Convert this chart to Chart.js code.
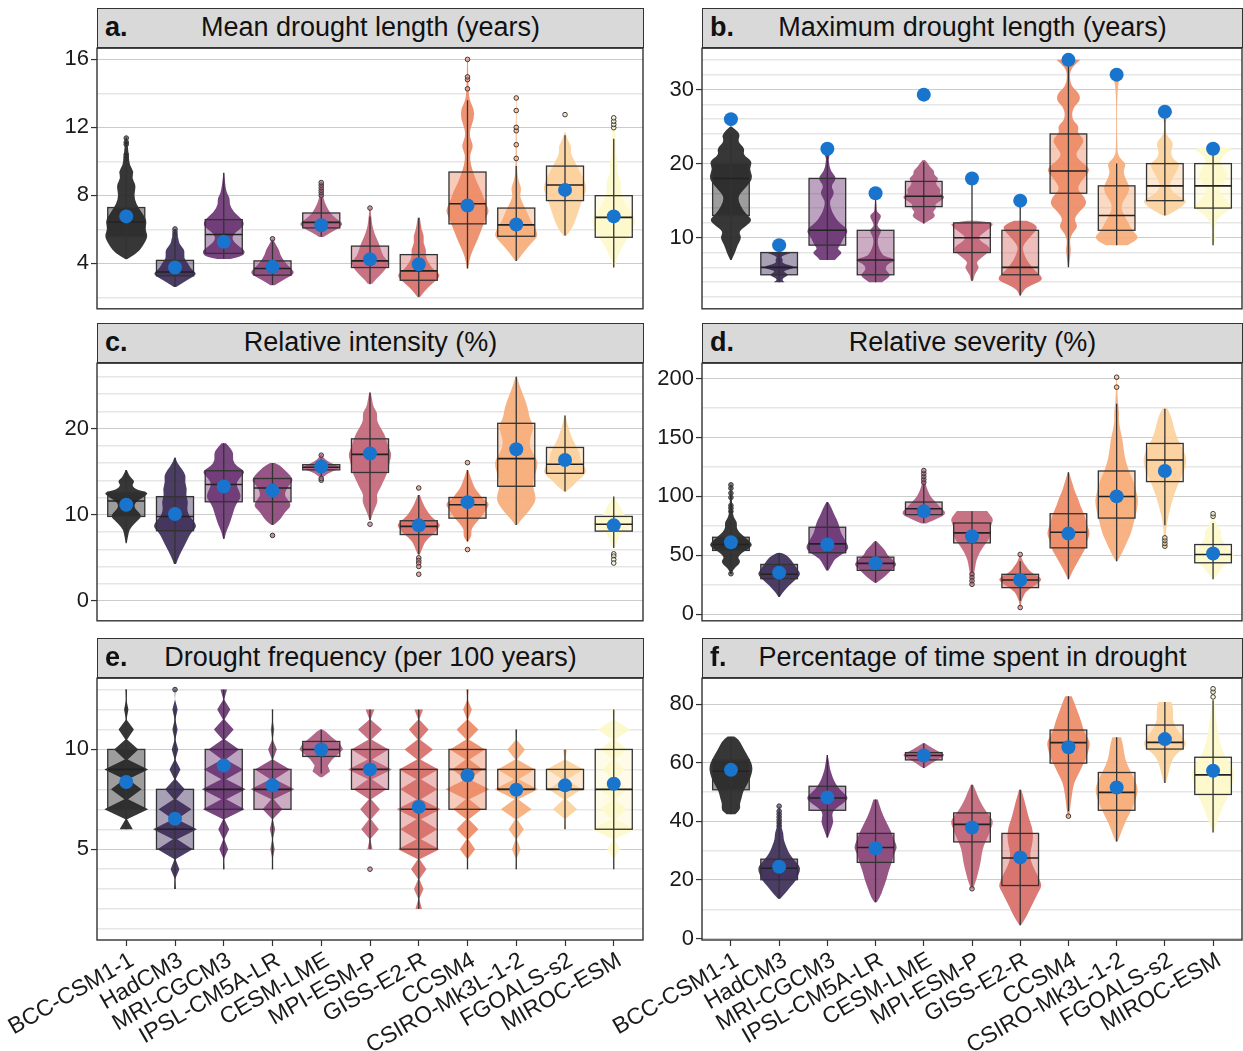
<!DOCTYPE html>
<html><head><meta charset="utf-8">
<script src="https://cdn.jsdelivr.net/npm/chart.js@4/dist/chart.umd.min.js"></script>
<style>
body{margin:0;background:#fff;width:1243px;height:1051px;overflow:hidden;position:relative;font-family:"Liberation Sans",Arial,Helvetica,sans-serif}
.hdr{position:absolute;height:40px;background:#d9d9d9;border:1.4px solid #333;box-sizing:border-box;font-size:27px;line-height:37px;text-align:center;color:#111;white-space:nowrap}
.hdr b{position:absolute;left:7px;top:0}
canvas{position:absolute}
</style></head>
<body>
<script>
const models = ['BCC-CSM1-1','HadCM3','MRI-CGCM3','IPSL-CM5A-LR','CESM-LME','MPI-ESM-P','GISS-E2-R','CCSM4','CSIRO-Mk3L-1-2','FGOALS-s2','MIROC-ESM'];
const modelColors = ['#262626','#3d2c58','#6b3674','#8c487b','#ad5d80','#c2677a','#d86f69','#ee8b66','#f7ad79','#fcd19c','#fdf8cb'];
const panelLetters = ['a.','b.','c.','d.','e.','f.'];
const panelTitles = ['Mean drought length (years)','Maximum drought length (years)','Relative intensity (%)','Relative severity (%)','Drought frequency (per 100 years)','Percentage of time spent in drought'];

// ---------- a. Mean drought length ----------
const aRange = [1.32, 16.66];
const aTicks = [4, 8, 12, 16];
const aGrid = [2, 4, 6, 8, 10, 12, 14, 16];
const aBox = [[4.23,5.56,6.43,7.28,9.9],[2.6,3.26,3.49,4.17,5.5],[4.27,4.58,5.69,6.57,9.33],[2.72,3.3,3.69,4.14,5.3],[5.56,6.08,6.41,6.96,7.83],[2.77,3.75,4.14,5.01,6.76],[2.03,3.0,3.55,4.51,6.67],[3.69,6.32,7.5,9.37,13.6],[4.14,5.59,6.26,7.25,9.72],[5.63,7.69,8.61,9.72,11.53],[3.75,5.53,6.7,7.98,11.33]];
const aMean = [6.76,3.75,5.27,3.79,6.24,4.23,3.94,7.4,6.28,8.32,6.76];
const aOut = [[10.1,10.25,10.4,11.0,11.13,11.37],[5.7,5.85,6.02],[],[5.44],[8.0,8.15,8.3,8.45,8.6,8.75],[7.25],[],[14.27,14.81,14.97,16.0],[10.17,10.98,11.8,12.0,12.99,13.73],[12.75],[11.98,12.17,12.36,12.56]];
const aViolin = [
 [[4.25,0.05],[4.6,0.5],[5.0,0.75],[5.6,1.0],[6.0,0.85],[6.5,0.95],[7.0,0.7],[7.5,0.45],[8.0,0.35],[8.6,0.45],[9.0,0.25],[9.4,0.35],[9.8,0.15],[10.3,0.12],[11.4,0.03]],
 [[2.6,0.05],[2.9,0.4],[3.2,0.8],[3.4,1.0],[3.7,0.7],[4.0,0.6],[4.3,0.4],[4.8,0.45],[5.1,0.2],[5.5,0.15],[6.0,0.03]],
 [[4.25,0.3],[4.4,0.85],[4.7,1.0],[5.0,0.7],[5.4,0.35],[5.8,0.5],[6.2,0.95],[6.6,0.85],[7.0,0.45],[7.5,0.25],[7.8,0.3],[8.2,0.1],[9.3,0.02]],
 [[2.7,0.1],[3.0,0.45],[3.3,0.9],[3.5,1.0],[3.8,0.75],[4.1,0.55],[4.5,0.35],[4.8,0.3],[5.1,0.15],[5.4,0.03]],
 [[5.55,0.1],[5.8,0.4],[6.1,0.85],[6.35,1.0],[6.6,0.7],[6.9,0.45],[7.2,0.3],[7.6,0.15],[8.0,0.08],[8.8,0.02]],
 [[2.8,0.1],[3.1,0.3],[3.4,0.55],[3.8,0.8],[4.1,0.85],[4.4,0.6],[4.8,0.5],[5.2,0.4],[5.6,0.25],[6.0,0.15],[6.4,0.08],[7.3,0.02]],
 [[2.0,0.05],[2.5,0.35],[3.0,0.8],[3.3,1.0],[3.6,0.7],[4.0,0.45],[4.4,0.3],[4.8,0.35],[5.2,0.2],[5.6,0.25],[6.0,0.12],[6.7,0.05]],
 [[3.7,0.03],[4.3,0.1],[4.8,0.25],[5.5,0.5],[6.2,0.7],[6.7,0.85],[7.1,1.0],[7.6,0.8],[8.2,0.65],[8.7,0.45],[9.2,0.3],[9.8,0.15],[10.4,0.1],[10.9,0.28],[11.4,0.1],[11.9,0.12],[12.5,0.3],[13.1,0.3],[13.6,0.08],[14.5,0.04],[16.0,0.02]],
 [[4.15,0.05],[4.6,0.3],[5.2,0.7],[5.6,1.0],[6.0,0.9],[6.5,0.65],[7.0,0.5],[7.5,0.3],[8.0,0.15],[8.4,0.25],[9.0,0.06],[10.0,0.03],[13.7,0.01]],
 [[5.6,0.05],[6.0,0.3],[6.6,0.5],[7.2,0.65],[7.8,0.8],[8.4,1.0],[9.0,0.85],[9.6,0.6],[10.1,0.4],[10.5,0.25],[10.9,0.3],[11.3,0.1],[11.7,0.03]],
 [[3.75,0.03],[4.3,0.15],[5.0,0.4],[5.6,0.7],[6.2,0.95],[6.6,1.0],[7.0,0.8],[7.6,0.45],[8.2,0.3],[8.8,0.35],[9.3,0.15],[9.8,0.2],[10.3,0.12],[10.8,0.1],[11.4,0.08],[12.6,0.02]]
];

// ---------- b. Maximum drought length ----------
const bRange = [0.41, 35.57];
const bTicks = [10, 20, 30];
const bGrid = [2,4,6,8,10,12,14,16,18,20,22,24,26,28,30,32,34];
const bBox = [[7,13,18,20,24],[4,5,6,8,8],[7,9,11,18,22],[4,5,7,11,16],[11.9,14.2,15.6,17.6,20.2],[4.2,8,10,12,18],[2.2,5,6,11,15],[6,16,19,24,34],[9,11,13,17,20],[13,15,17,20,27],[9,14,17,20,22]];
const bMean = [26,9,22,16,29.3,18,15,34,32,27,22];
const bOut = [[],[],[],[],[],[],[],[],[],[],[]];
const bViolin = [
 [[7,0.03],[8,0.2],[9,0.3],[10,0.5],[10.8,0.35],[11.6,0.7],[12.4,1.0],[13.2,0.7],[14.2,0.45],[15.5,0.3],[16.5,0.6],[17.5,0.9],[18.3,1.0],[19.3,0.85],[20.3,1.0],[21.2,0.55],[22,0.65],[23,0.3],[24,0.45],[25,0.03]],
 [[4,0.25],[4.4,0.05],[5,0.5],[5.5,0.1],[6,0.85],[6.6,0.1],[7,0.2],[7.5,0.05],[8,0.6]],
 [[7,0.35],[7.5,0.5],[8,0.7],[8.5,0.45],[9,0.6],[10,0.75],[11,1.0],[12,0.55],[13,0.3],[14,0.15],[15,0.1],[16,0.35],[17,0.15],[18,0.45],[19,0.15],[20,0.08],[21,0.05],[22,0.3]],
 [[4,0.3],[4.5,0.55],[5,0.7],[5.5,0.5],[6,0.45],[6.5,0.6],[7,1.0],[7.5,0.4],[8,0.25],[9,0.1],[10,0.1],[11,0.3],[11.5,0.08],[12,0.1],[13,0.3],[13.5,0.05],[14,0.05],[15,0.02]],
 [[12,0.05],[12.5,0.4],[13,0.55],[13.5,0.4],[14,0.6],[14.5,0.5],[15,0.8],[15.5,1.0],[16,0.7],[16.5,0.8],[17,0.6],[17.5,0.55],[18,0.7],[18.5,0.45],[19,0.5],[19.5,0.3],[20,0.2],[20.5,0.05]],
 [[4.2,0.05],[5,0.1],[6,0.35],[6.5,0.2],[7,0.3],[8,0.75],[8.5,0.85],[9,0.7],[9.5,0.4],[10,0.3],[10.5,0.45],[11,0.7],[11.5,0.9],[12,1.0],[12.3,0.2]],
 [[2.2,0.03],[3,0.15],[3.6,0.5],[4.2,1.0],[4.8,1.0],[5.5,0.7],[6.2,0.5],[7,0.3],[8,0.15],[8.8,0.1],[9.6,0.3],[10.4,0.55],[11.2,0.8],[11.8,0.7],[12.3,0.3]],
 [[6,0.02],[7.5,0.08],[8.5,0.12],[9.5,0.05],[10.5,0.15],[11.5,0.45],[12.5,0.25],[13.5,0.5],[14.5,0.85],[15.5,0.75],[16.5,0.4],[17.5,0.55],[18.5,0.85],[19.3,1.0],[20.2,0.6],[21.2,0.3],[22.2,0.55],[23.2,0.75],[24.2,0.4],[25,0.5],[26,0.15],[27.5,0.2],[28.5,0.55],[29.5,0.5],[30.5,0.1],[32.5,0.05],[33.5,0.35],[34,0.55]],
 [[9,0.5],[9.6,0.9],[10.2,1.0],[11,0.7],[12,0.55],[13,0.35],[14,0.2],[15,0.3],[16,0.55],[17,0.6],[18,0.4],[19,0.3],[20,0.45],[20.8,0.1],[22,0.02],[31,0.02],[31.8,0.3],[32.2,0.2]],
 [[13,0.1],[13.5,0.4],[14,0.7],[14.5,0.9],[15,1.0],[15.5,0.7],[16,0.4],[17,0.2],[18,0.35],[19,0.55],[20,0.7],[20.5,0.4],[21.5,0.25],[22.5,0.4],[23.2,0.3],[24,0.03],[26,0.02],[26.8,0.4],[27.2,0.3]],
 [[9,0.02],[10,0.15],[10.5,0.05],[12,0.1],[13,0.35],[14,0.9],[14.5,0.8],[15.5,0.45],[16.5,0.25],[17.5,0.5],[18.5,0.7],[19.5,0.45],[20.5,0.3],[21.5,0.6],[22,1.0],[22.3,0.2]]
];

// ---------- c. Relative intensity ----------
const cRange = [-2.3, 27.57];
const cTicks = [0, 10, 20];
const cGrid = [0,2,4,6,8,10,12,14,16,18,20,22,24,26];
const cBox = [[6.7,9.8,11.6,12.6,15.2],[4.3,8.15,9.8,12.1,16.6],[7.2,11.5,13.5,15.1,18.3],[8.85,11.5,13.1,14.2,16.0],[14.5,15.2,15.5,15.8,16.5],[9.4,14.9,17.0,18.8,24.15],[5.4,7.7,8.65,9.3,12.3],[6.9,9.6,11.15,12.0,15.2],[8.8,13.3,16.5,20.6,26.0],[12.7,14.8,15.85,17.8,21.5],[6.15,8.1,8.9,9.8,12.1]];
const cMean = [11.15,10.08,13.27,12.8,15.6,17.1,8.77,11.46,17.6,16.35,8.77];
const cOut = [[],[],[],[7.6],[14.0,14.2,16.9],[8.9],[13.1,5.0,4.7,4.4,4.0,3.1],[16.04,5.96],[],[],[5.46,5.2,4.8,4.4]];
const cViolin = [
 [[6.8,0.03],[7.5,0.08],[8.3,0.15],[8.9,0.35],[9.4,0.55],[9.8,0.7],[10.2,0.6],[10.7,0.4],[11.2,0.35],[11.7,0.55],[12.2,0.9],[12.6,1.0],[12.9,0.45],[13.4,0.25],[13.9,0.4],[14.4,0.15],[15.2,0.03]],
 [[4.3,0.05],[5,0.15],[5.8,0.3],[6.5,0.45],[7.3,0.6],[8,0.75],[8.6,1.0],[9.3,0.85],[10,0.6],[10.8,0.55],[11.5,0.6],[12.3,0.5],[13,0.55],[13.8,0.45],[14.5,0.5],[15.2,0.35],[16,0.1],[16.6,0.03]],
 [[7.2,0.03],[8,0.1],[8.8,0.25],[9.6,0.35],[10.4,0.45],[11.2,0.55],[12,0.8],[12.8,0.7],[13.6,0.55],[14.3,0.75],[15,1.0],[15.6,0.6],[16.3,0.4],[17,0.45],[17.6,0.35],[18.3,0.1]],
 [[8.8,0.05],[9.3,0.3],[9.8,0.45],[10.4,0.6],[11,0.85],[11.6,0.75],[12.2,0.55],[12.8,0.6],[13.4,0.75],[14,0.95],[14.6,0.8],[15.2,0.55],[15.7,0.35],[16,0.1]],
 [[14.3,0.05],[14.8,0.3],[15.2,0.7],[15.5,0.9],[15.8,0.6],[16.2,0.3],[16.6,0.1],[17,0.02]],
 [[9.4,0.03],[10,0.1],[10.6,0.2],[11.2,0.3],[11.7,0.35],[12.3,0.3],[13,0.45],[13.8,0.6],[14.6,0.75],[15.4,0.85],[16.2,0.9],[17,1.0],[17.8,0.85],[18.6,0.75],[19.4,0.65],[20.2,0.45],[21,0.3],[21.8,0.35],[22.5,0.15],[23.3,0.1],[24.2,0.03]],
 [[5.4,0.05],[6,0.15],[6.7,0.25],[7.3,0.45],[7.8,0.7],[8.3,0.85],[8.8,1.0],[9.3,0.8],[9.8,0.55],[10.4,0.4],[11,0.25],[11.6,0.15],[12.3,0.05]],
 [[6.9,0.03],[7.5,0.2],[8.2,0.15],[8.8,0.3],[9.5,0.55],[10.2,0.75],[10.8,0.9],[11.3,1.0],[11.8,0.7],[12.4,0.55],[13,0.35],[13.6,0.25],[14.3,0.15],[15.2,0.03]],
 [[8.8,0.05],[9.5,0.25],[10.3,0.55],[11,0.75],[11.7,0.9],[12.5,0.85],[13.3,0.75],[14.2,0.8],[15,0.9],[16,1.0],[16.8,0.85],[17.6,0.65],[18.5,0.6],[19.4,0.7],[20.3,0.8],[21.2,0.6],[22.1,0.55],[23,0.45],[24,0.3],[25,0.15],[26,0.03]],
 [[12.7,0.05],[13.3,0.35],[13.9,0.55],[14.5,0.85],[15.1,1.0],[15.7,0.85],[16.3,0.7],[16.9,0.7],[17.5,0.6],[18.2,0.45],[19,0.3],[19.8,0.2],[20.6,0.1],[21.5,0.03]],
 [[6.15,0.03],[6.7,0.15],[7.3,0.2],[7.9,0.35],[8.5,0.75],[9,1.0],[9.5,0.7],[10,0.5],[10.5,0.35],[11,0.3],[11.5,0.15],[12.1,0.03]]
];

// ---------- d. Relative severity ----------
const dRange = [-5.7, 213.2];
const dTicks = [0, 50, 100, 150, 200];
const dGrid = [0,25,50,75,100,125,150,175,200];
const dBox = [[39.4,54.1,59.1,65.3,78.8],[14.6,30.1,33.8,42.2,52.1],[37.2,52.1,59.7,73.8,95.2],[26.7,37.2,43.1,48.4,61.9],[77.4,84.5,89.5,95.2,109.8],[36.0,60.5,69,77.4,87.3],[11.3,22.5,29,33.8,45],[29.6,56.3,69.5,85.3,120.5],[45,81.6,99.9,121.6,178.8],[75.5,112.6,130.9,145,174.5],[29.6,43.6,50.7,59.1,77.4]];
const dMean = [61.1,35.2,59.1,43.1,87.3,66.2,29,68.4,100,121.6,51.5];
const dOut = [[34.3,87.3,90,92.3,99.1,102.8,107,109.8],[],[],[],[112,114.5,117,119.5,122],[33.8,31,28.2,25.3],[50.7,5.6],[],[192.8,201.3],[57.7,60,62.5,64.8],[83.1,85.3]];
const dViolin = [
 [[34,0.03],[38,0.1],[42,0.35],[45,0.45],[48,0.3],[52,0.5],[56,0.85],[59,1.0],[62,0.85],[66,0.6],[70,0.35],[74,0.25],[78,0.3],[82,0.12],[88,0.08],[95,0.05],[110,0.02]],
 [[14.6,0.03],[18,0.15],[22,0.35],[26,0.55],[30,0.8],[34,1.0],[38,0.85],[42,0.7],[46,0.55],[50,0.35],[52,0.1]],
 [[37,0.05],[42,0.2],[47,0.35],[52,0.8],[56,1.0],[60,0.9],[65,0.75],[70,0.6],[75,0.55],[80,0.45],[85,0.3],[90,0.2],[95,0.05]],
 [[26.7,0.05],[30,0.3],[34,0.55],[38,0.75],[42,1.0],[46,0.8],[50,0.55],[54,0.45],[58,0.25],[62,0.05]],
 [[77,0.1],[80,0.5],[84,0.95],[87,1.0],[90,0.8],[94,0.6],[98,0.4],[102,0.25],[108,0.12],[115,0.05],[122,0.02]],
 [[25,0.03],[33,0.08],[40,0.15],[46,0.2],[52,0.35],[58,0.55],[64,0.8],[70,0.9],[75,0.85],[80,1.0],[84,0.85],[87.5,0.7]],
 [[5.6,0.02],[11,0.05],[15,0.15],[19,0.25],[23,0.55],[27,0.9],[30,1.0],[33,0.75],[36,0.45],[40,0.3],[45,0.1],[50.7,0.02]],
 [[29.6,0.03],[35,0.15],[40,0.3],[45,0.45],[50,0.6],[56,0.8],[62,0.85],[68,1.0],[74,0.9],[80,0.8],[86,0.7],[92,0.55],[98,0.45],[104,0.3],[110,0.2],[116,0.1],[120.5,0.03]],
 [[45,0.03],[50,0.2],[56,0.35],[62,0.5],[68,0.65],[75,0.75],[82,0.85],[90,0.95],[97,1.0],[104,0.9],[112,0.8],[120,0.6],[128,0.45],[136,0.35],[144,0.3],[150,0.25],[158,0.15],[165,0.1],[172,0.12],[180,0.05],[202,0.01]],
 [[57,0.02],[70,0.05],[80,0.12],[90,0.25],[100,0.4],[110,0.6],[118,0.8],[125,0.95],[132,1.0],[140,0.85],[148,0.6],[156,0.45],[164,0.35],[170,0.25],[175,0.1]],
 [[29.6,0.03],[35,0.25],[40,0.45],[45,0.8],[50,1.0],[55,0.7],[60,0.55],[65,0.35],[70,0.4],[75,0.2],[80,0.08],[86,0.02]]
];

// ---------- e. Drought frequency ----------
const eRange = [0.45, 13.57];
const eTicks = [5, 10];
const eGrid = [1,2,3,4,5,6,7,8,9,10,11,12,13];
const eBox = [[6,7,9,10,13],[3,5,6,8,12],[4,7,8,10,13],[4,7,8,9,12],[8.8,9.65,10,10.4,11],[5,8,9,10,12],[2,5,7,9,12],[4,7,9,10,13],[4,8,8,9,11],[6,8,8,9,10],[4,6,8,10,12]];
const eMean = [8.37,6.53,9.2,8.2,10.0,9.0,7.12,8.7,7.98,8.2,8.28];
const eOut = [[],[13],[],[],[],[4],[],[],[],[],[]];
const eViolin = [
 dia([[6,0.3],[7,1.0],[8,0.7],[9,1.0],[10,0.55],[11,0.35],[12,0.1],[13,0.03]]),
 dia([[3,0.04],[4,0.2],[5,0.8],[6,1.0],[7,0.75],[8,0.45],[9,0.25],[10,0.15],[11,0.12],[12,0.12],[13,0.02]]),
 dia([[4,0.03],[5,0.2],[6,0.25],[7,0.95],[8,1.0],[9,0.9],[10,0.7],[11,0.45],[12,0.3],[13,0.15]]),
 dia([[4,0.03],[5,0.1],[6,0.12],[7,0.45],[8,1.0],[9,0.8],[10,0.2],[11,0.08],[12,0.03]]),
 [[8.6,0.05],[8.9,0.4],[9.2,0.3],[9.5,0.5],[9.8,0.8],[10.0,1.0],[10.3,0.85],[10.6,0.5],[10.9,0.2],[11.0,0.05]],
 dia([[5,0.12],[6,0.4],[7,0.45],[8,0.75],[9,1.0],[10,0.85],[11,0.55],[12,0.2]]),
 dia([[2,0.15],[3,0.22],[4,0.35],[5,0.95],[6,0.85],[7,1.0],[8,0.85],[9,0.9],[10,0.65],[11,0.45],[12,0.2]]),
 dia([[4,0.03],[5,0.35],[6,0.5],[7,0.65],[8,1.0],[9,0.7],[10,0.8],[11,0.5],[12,0.2],[13,0.05]]),
 dia([[4,0.03],[5,0.2],[6,0.35],[7,0.7],[8,1.0],[9,0.85],[10,0.4],[11,0.05]]),
 dia([[6,0.05],[7,0.55],[8,0.75],[9,0.85],[10,0.1]]),
 dia([[4,0.03],[5,0.3],[6,1.0],[7,0.6],[8,0.65],[9,0.5],[10,0.6],[11,0.75],[12,0.1]])
];

// ---------- f. Percentage of time in drought ----------
const fRange = [-0.5, 88.9];
const fTicks = [0, 20, 40, 60, 80];
const fGrid = [0,10,20,30,40,50,60,70,80];
const fBox = [[42.4,50.8,57.1,61.0,68.9],[13.6,20.1,24,27.1,37.3],[34.5,43.8,48,52,62.7],[12.4,26,31.1,35.9,47.5],[58.2,61,62.5,63.5,66.7],[18,33,39,42.9,52.5],[4.5,18.1,27.5,35.9,50.8],[43.5,59.9,66.9,71.2,82.7],[33.1,43.8,49.9,56.7,68.7],[53.1,64.7,67,72.9,80.8],[36.2,49.2,55.9,61.9,81.4]];
const fMean = [57.6,24.5,48.2,30.8,62.5,37.9,27.7,65.3,51.6,68.1,57.3];
const fOut = [[],[38.5,39.5,40.5,41.5,42.5,43.5,45.2],[],[],[],[17],[],[41.8],[],[],[82.5,84.2,85.3]];
const fViolin = [
 [[42.4,0.2],[44,0.45],[46,0.4],[48,0.5],[50,0.55],[52,0.7],[54,0.85],[56,0.95],[58,1.0],[60,0.95],[62,0.8],[64,0.65],[66,0.5],[68,0.35],[69,0.15]],
 [[13.6,0.05],[16,0.35],[18,0.55],[20,0.8],[22,0.9],[24,1.0],[26,0.8],[28,0.55],[30,0.4],[32,0.3],[34,0.2],[36,0.2],[38,0.1],[42,0.05],[45.2,0.02]],
 [[34.5,0.03],[37,0.15],[40,0.3],[42,0.2],[44,0.3],[46,0.7],[48,1.0],[50,0.7],[52,0.45],[54,0.3],[56,0.2],[58,0.12],[60,0.08],[62.7,0.02]],
 [[12.4,0.05],[14,0.2],[17,0.35],[20,0.5],[23,0.6],[26,0.75],[29,0.85],[31,1.0],[33,0.9],[36,0.75],[39,0.55],[42,0.35],[45,0.2],[47.5,0.1]],
 [[58.2,0.03],[59.5,0.3],[61,0.6],[62.5,1.0],[63.5,0.8],[65,0.4],[66.7,0.05]],
 [[17,0.05],[20,0.2],[23,0.3],[26,0.4],[29,0.45],[32,0.55],[35,0.75],[38,0.9],[40,1.0],[42,0.8],[45,0.5],[48,0.3],[50,0.2],[52.5,0.05]],
 [[4.5,0.03],[7,0.25],[10,0.45],[13,0.65],[16,0.85],[18,1.0],[20,0.9],[23,0.7],[26,0.5],[29,0.45],[32,0.55],[35,0.6],[38,0.55],[41,0.4],[44,0.3],[47,0.2],[50.8,0.05]],
 [[41.8,0.03],[44,0.08],[47,0.12],[50,0.18],[53,0.25],[56,0.45],[59,0.65],[62,0.85],[65,0.95],[67,1.0],[69,0.85],[71,0.7],[74,0.6],[77,0.45],[80,0.3],[82.7,0.15]],
 [[33.1,0.05],[36,0.2],[39,0.35],[42,0.55],[45,0.75],[48,0.9],[51,1.0],[54,0.85],[57,0.65],[60,0.45],[63,0.35],[66,0.3],[68.7,0.2]],
 [[53.1,0.05],[56,0.15],[59,0.25],[62,0.4],[64,0.7],[66,1.0],[68,0.9],[70,0.7],[72,0.5],[75,0.35],[78,0.4],[80.8,0.3]],
 [[36.2,0.03],[39,0.15],[42,0.3],[45,0.45],[48,0.65],[51,0.8],[54,0.95],[57,1.0],[60,0.75],[63,0.5],[66,0.35],[70,0.25],[74,0.15],[78,0.1],[82,0.05],[85.3,0.02]]
];

// diamond-shaped density for integer-valued data
function dia(pairs) {
  const out = [];
  pairs.forEach(([v, d], k) => {
    if (k > 0) out.push([v - 0.5, Math.min(pairs[k - 1][1], d) * 0.12]);
    out.push([v, d]);
  });
  return out;
}

const panels = [
  {range:aRange, ticks:aTicks, grid:aGrid, box:aBox, mean:aMean, out:aOut, vio:aViolin, smooth:true},
  {range:bRange, ticks:bTicks, grid:bGrid, box:bBox, mean:bMean, out:bOut, vio:bViolin, smooth:true},
  {range:cRange, ticks:cTicks, grid:cGrid, box:cBox, mean:cMean, out:cOut, vio:cViolin, smooth:true},
  {range:dRange, ticks:dTicks, grid:dGrid, box:dBox, mean:dMean, out:dOut, vio:dViolin, smooth:true},
  {range:eRange, ticks:eTicks, grid:eGrid, box:eBox, mean:eMean, out:eOut, vio:eViolin, smooth:false},
  {range:fRange, ticks:fTicks, grid:fGrid, box:fBox, mean:fMean, out:fOut, vio:fViolin, smooth:true}
];

// ---------- layout ----------
const COLS = [{plotL:97, plotR:643, cvL:0, cvW:645}, {plotL:702, plotR:1242, cvL:600, cvW:643}];
const ROWS = [{hdrT:8, plotT:47, plotB:310}, {hdrT:323, plotT:362, plotB:622}, {hdrT:638, plotT:677, plotB:940}];
const PAD = 14;

Chart.defaults.font.family = '"Liberation Sans", Arial, Helvetica, sans-serif';
Chart.defaults.animation = false;

function rgba(hex, a) {
  const n = parseInt(hex.slice(1), 16);
  return 'rgba(' + (n >> 16) + ',' + ((n >> 8) & 255) + ',' + (n & 255) + ',' + a + ')';
}

function drawViolin(ctx, cx, maxHW, pts, color, smooth) {
  const R = pts.map(([y, d]) => [cx + d * maxHW, y]);
  const L = pts.map(([y, d]) => [cx - d * maxHW, y]);
  const n = R.length;
  ctx.beginPath();
  ctx.moveTo(cx, R[0][1]);
  ctx.lineTo(R[0][0], R[0][1]);
  for (let k = 1; k < n - 1; k++) {
    if (smooth) ctx.quadraticCurveTo(R[k][0], R[k][1], (R[k][0] + R[k + 1][0]) / 2, (R[k][1] + R[k + 1][1]) / 2);
    else ctx.lineTo(R[k][0], R[k][1]);
  }
  ctx.lineTo(R[n - 1][0], R[n - 1][1]);
  ctx.lineTo(L[n - 1][0], L[n - 1][1]);
  for (let k = n - 2; k > 0; k--) {
    if (smooth) ctx.quadraticCurveTo(L[k][0], L[k][1], (L[k][0] + L[k - 1][0]) / 2, (L[k][1] + L[k - 1][1]) / 2);
    else ctx.lineTo(L[k][0], L[k][1]);
  }
  ctx.lineTo(L[0][0], L[0][1]);
  ctx.closePath();
  ctx.fillStyle = color;
  ctx.fill();
}

const violinBoxPlugin = {
  id: 'violinBox',
  beforeDatasetsDraw(chart, args, opts) {
    const p = opts.panel;
    const xs = chart.scales.x, ys = chart.scales.y, ctx = chart.ctx, a = chart.chartArea;
    const unit = xs.getPixelForValue(1) - xs.getPixelForValue(0);
    ctx.save();
    ctx.beginPath(); ctx.rect(a.left, a.top, a.right - a.left, a.bottom - a.top); ctx.clip();
    p.box.forEach((b, i) => {
      const cx = xs.getPixelForValue(i);
      const col = modelColors[i];
      const bw = 0.38 * unit;
      const yLo = ys.getPixelForValue(b[0]), yQ1 = ys.getPixelForValue(b[1]), yMed = ys.getPixelForValue(b[2]),
            yQ3 = ys.getPixelForValue(b[3]), yHi = ys.getPixelForValue(b[4]);
      ctx.fillStyle = rgba(col, 0.45);
      ctx.fillRect(cx - bw, yQ3, 2 * bw, yQ1 - yQ3);
      drawViolin(ctx, cx, 0.45 * unit, p.vio[i].map(([v, d]) => [ys.getPixelForValue(v), d]), rgba(col, 0.92), p.smooth);
      ctx.strokeStyle = '#333';
      ctx.lineWidth = 1.3;
      ctx.beginPath(); ctx.moveTo(cx, yLo); ctx.lineTo(cx, yHi); ctx.stroke();
      ctx.strokeRect(cx - bw, yQ3, 2 * bw, yQ1 - yQ3);
      ctx.lineWidth = 1.6;
      ctx.strokeStyle = '#222';
      ctx.beginPath(); ctx.moveTo(cx - bw, yMed); ctx.lineTo(cx + bw, yMed); ctx.stroke();
    });
    ctx.restore();
  },
  afterDatasetsDraw(chart) {
    const ctx = chart.ctx, a = chart.chartArea;
    ctx.save();
    ctx.strokeStyle = '#333';
    ctx.lineWidth = 1.4;
    ctx.strokeRect(a.left, a.top, a.right - a.left, a.bottom - a.top);
    ctx.restore();
  }
};

panels.forEach((p, k) => {
  const C = COLS[k % 2], R = ROWS[Math.floor(k / 2)];
  const bottomRow = Math.floor(k / 2) === 2;
  const h = document.createElement('div');
  h.className = 'hdr';
  h.style.left = C.plotL + 'px';
  h.style.top = R.hdrT + 'px';
  h.style.width = (C.plotR - C.plotL + 1) + 'px';
  h.innerHTML = '<b>' + panelLetters[k] + '</b><span>' + panelTitles[k] + '</span>';
  document.body.appendChild(h);
  const cvT = R.plotT - PAD;
  const cvH = bottomRow ? 1051 - cvT : (R.plotB - R.plotT) + 2 * PAD;
  const cv = document.createElement('canvas');
  cv.width = C.cvW; cv.height = cvH;
  cv.style.left = C.cvL + 'px'; cv.style.top = cvT + 'px';
  cv.style.width = C.cvW + 'px'; cv.style.height = cvH + 'px';
  document.body.appendChild(cv);

  const yAxisW = C.plotL - C.cvL;
  const xAxisH = bottomRow ? cvH - PAD - (R.plotB - R.plotT) : 0;
  const isMajor = v => p.ticks.includes(v);

  const meanData = p.mean.map((m, i) => ({x: i, y: m}));
  const outData = [], outColors = [];
  p.out.forEach((arr, i) => arr.forEach(v => { outData.push({x: i, y: v}); outColors.push(rgba(modelColors[i], 0.6)); }));

  new Chart(cv, {
    type: 'scatter',
    data: {
      datasets: [
        {data: meanData, pointRadius: 7, pointBackgroundColor: '#1874cd', pointBorderWidth: 0, pointHoverRadius: 7},
        {data: outData, pointRadius: 2.3, pointBackgroundColor: outColors, pointBorderColor: '#3a3a3a', pointBorderWidth: 1}
      ]
    },
    options: {
      responsive: false,
      animation: false,
      events: [],
      layout: {autoPadding: false, padding: {top: PAD, bottom: bottomRow ? 0 : PAD, left: 0, right: C.cvW - (C.plotR - C.cvL)}},
      plugins: {legend: {display: false}, tooltip: {enabled: false}, violinBox: {panel: p}},
      scales: {
        x: {
          type: 'linear', min: -0.6, max: 10.6,
          display: bottomRow,
          afterBuildTicks: s => { s.ticks = models.map((m, i) => ({value: i})); },
          afterFit: s => { s.height = xAxisH; s.paddingLeft = 0; s.paddingRight = 0; },
          grid: {display: true, drawOnChartArea: false, drawTicks: true, tickLength: 6, tickColor: '#333', tickWidth: 1.2},
          border: {display: false},
          ticks: {autoSkip: false, minRotation: 30, maxRotation: 30, padding: 1, labelOffset: 6, color: '#1a1a1a', font: {size: 23},
                  callback: v => models[v]}
        },
        y: {
          type: 'linear', min: p.range[0], max: p.range[1],
          afterBuildTicks: s => { s.ticks = p.grid.map(v => ({value: v})); },
          afterFit: s => { s.width = yAxisW; },
          grid: {
            color: c => (c.tick && isMajor(c.tick.value)) ? '#cbcbcb' : '#e6e6e6',
            lineWidth: c => (c.tick && isMajor(c.tick.value)) ? 1.1 : 1.4,
            drawTicks: true, tickLength: 6, tickWidth: 1.2,
            tickColor: c => (c.tick && isMajor(c.tick.value)) ? '#333' : 'rgba(0,0,0,0)'
          },
          border: {display: false},
          ticks: {autoSkip: false, padding: 2, color: '#1a1a1a', font: {size: 22},
                  callback: v => isMajor(v) ? String(v) : ''}
        }
      }
    },
    plugins: [violinBoxPlugin]
  });
});
</script>
</body></html>
